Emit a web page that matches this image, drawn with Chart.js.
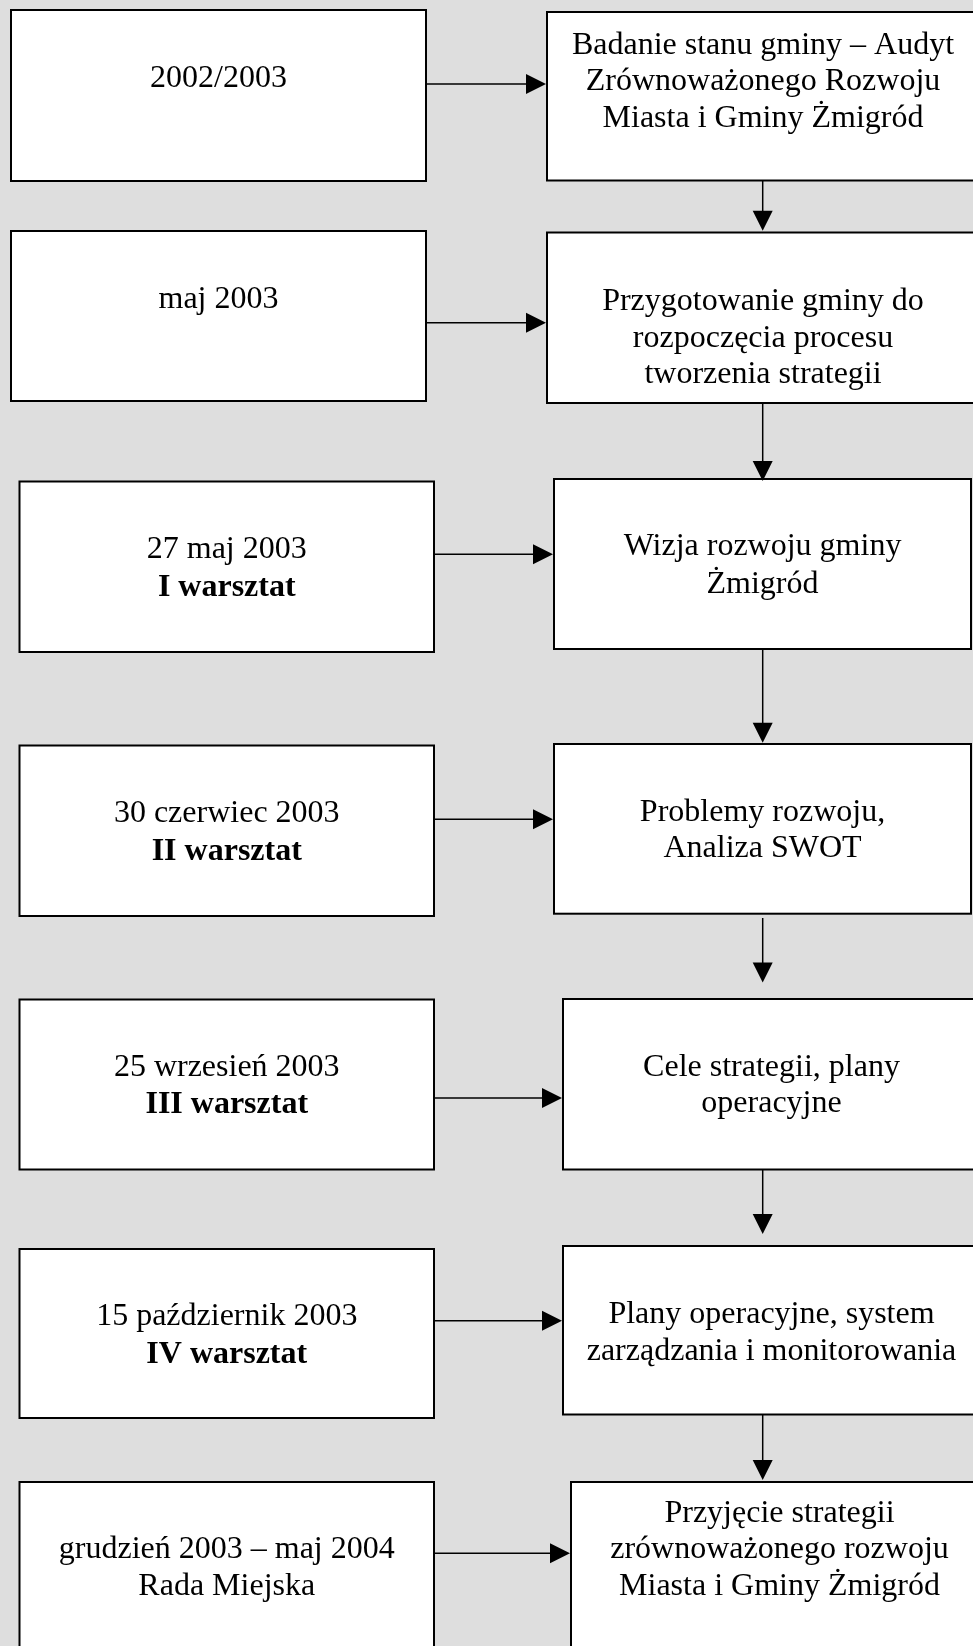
<!DOCTYPE html>
<html>
<head>
<meta charset="utf-8">
<script src="https://cdn.jsdelivr.net/npm/chart.js@4/dist/chart.umd.min.js"></script>
<style>
html,body{margin:0;padding:0;background:#dedede;}
#wrap{width:973px;height:1646px;}
</style>
</head>
<body>
<div id="wrap"><canvas id="c" width="973" height="1646"></canvas></div>
<script>
// ---- data ----
const dates = ['2002/2003', 'maj 2003', '27 maj 2003', '30 czerwiec 2003', '25 wrzesień 2003', '15 październik 2003', 'grudzień 2003 – maj 2004'];
const sessions = ['', '', 'I warsztat', 'II warsztat', 'III warsztat', 'IV warsztat', 'Rada Miejska'];
const sessionBold = [false, false, true, true, true, true, false];
const stages = [
  ['Badanie stanu gminy – Audyt', 'Zrównoważonego Rozwoju', 'Miasta i Gminy Żmigród'],
  ['Przygotowanie gminy do', 'rozpoczęcia procesu', 'tworzenia strategii'],
  ['Wizja rozwoju gminy', 'Żmigród'],
  ['Problemy rozwoju,', 'Analiza SWOT'],
  ['Cele strategii, plany', 'operacyjne'],
  ['Plany operacyjne, system', 'zarządzania i monitorowania'],
  ['Przyjęcie strategii', 'zrównoważonego rozwoju', 'Miasta i Gminy Żmigród']
];

// ---- layout (canvas units) ----
const leftBox = [[11,10,426,181],[11,231,426,401],[19.5,481.5,434,652],[19.5,745.5,434,916],[19.5,999.5,434,1169.5],[19.5,1249,434,1418],[19.5,1482,434,1700]];
const rightBox = [[547,12,979,180.5],[547,232.5,979,403],[554,479,971,649],[554,744,971,913.7],[563,999,980,1169.5],[563,1246,980,1414.5],[571,1482,988,1700]];
const hArrowY = [84,322.7,554.3,819.3,1098,1320.7,1553.3];
const vArrows = [[181,230.7],[403,481],[649,742.7],[918,982.5],[1169.5,1234],[1414.5,1480]];
const vArrowX = 762.7;
const leftBase = [[87.3],[308.3],[558,596],[821.7,860],[1075.7,1113.3],[1325,1362.7],[1558.3,1595]];
const rightBase = [[53.5,90,126.5],[310,346.7,383.3],[555,592.7],[820.7,857],[1075.7,1112.3],[1322.7,1360],[1521.7,1558.3,1595]];

const FONT = 'Liberation Serif, "Times New Roman", serif';
const FS = 32;

const flowPlugin = {
  id: 'flow',
  beforeDraw(chart) {
    const ctx = chart.ctx;
    const xs = chart.scales.x, ys = chart.scales.y;
    const X = v => xs.getPixelForValue(v), Y = v => ys.getPixelForValue(v);
    ctx.save();
    ctx.fillStyle = '#dedede';
    ctx.fillRect(0, 0, chart.width, chart.height);
    const box = b => {
      const x0 = X(b[0]), y0 = Y(b[1]), x1 = X(b[2]), y1 = Y(b[3]);
      ctx.fillStyle = '#ffffff';
      ctx.fillRect(x0, y0, x1 - x0, y1 - y0);
      ctx.lineWidth = 2;
      ctx.strokeStyle = '#000000';
      ctx.strokeRect(x0, y0, x1 - x0, y1 - y0);
    };
    leftBox.forEach(box);
    rightBox.forEach(box);
    // horizontal arrows
    ctx.fillStyle = '#000';
    ctx.strokeStyle = '#000';
    ctx.lineWidth = 1.5;
    hArrowY.forEach((yv, i) => {
      const x0 = X(leftBox[i][2] + 1), x1 = X(rightBox[i][0] - 1), y = Y(yv);
      ctx.beginPath(); ctx.moveTo(x0, y); ctx.lineTo(x1 - 18, y); ctx.stroke();
      ctx.beginPath(); ctx.moveTo(x1 - 20, y - 10); ctx.lineTo(x1, y); ctx.lineTo(x1 - 20, y + 10); ctx.closePath(); ctx.fill();
    });
    vArrows.forEach(a => {
      const x = X(vArrowX), y0 = Y(a[0]), y1 = Y(a[1]);
      ctx.beginPath(); ctx.moveTo(x, y0); ctx.lineTo(x, y1 - 18); ctx.stroke();
      ctx.beginPath(); ctx.moveTo(x - 10, y1 - 20); ctx.lineTo(x, y1); ctx.lineTo(x + 10, y1 - 20); ctx.closePath(); ctx.fill();
    });
    // text
    ctx.textAlign = 'center';
    ctx.textBaseline = 'alphabetic';
    ctx.fillStyle = '#000';
    dates.forEach((d, i) => {
      const cx = X((leftBox[i][0] + leftBox[i][2]) / 2);
      ctx.font = FS + 'px ' + FONT;
      ctx.fillText(d, cx, Y(leftBase[i][0]));
      if (sessions[i]) {
        ctx.font = (sessionBold[i] ? 'bold ' : '') + FS + 'px ' + FONT;
        ctx.fillText(sessions[i], cx, Y(leftBase[i][1]));
      }
    });
    stages.forEach((lines, i) => {
      const cx = X((rightBox[i][0] + rightBox[i][2]) / 2);
      ctx.font = FS + 'px ' + FONT;
      lines.forEach((t, j) => ctx.fillText(t, cx, Y(rightBase[i][j])));
    });
    ctx.restore();
  }
};

new Chart(document.getElementById('c'), {
  type: 'scatter',
  data: { datasets: [{ data: [], pointRadius: 0 }] },
  options: {
    responsive: false,
    animation: false,
    layout: { padding: 0 },
    plugins: { legend: { display: false }, tooltip: { enabled: false } },
    scales: {
      x: { type: 'linear', min: 0, max: 973, display: false },
      y: { type: 'linear', min: 0, max: 1646, reverse: true, display: false }
    }
  },
  plugins: [flowPlugin]
});
</script>
</body>
</html>
